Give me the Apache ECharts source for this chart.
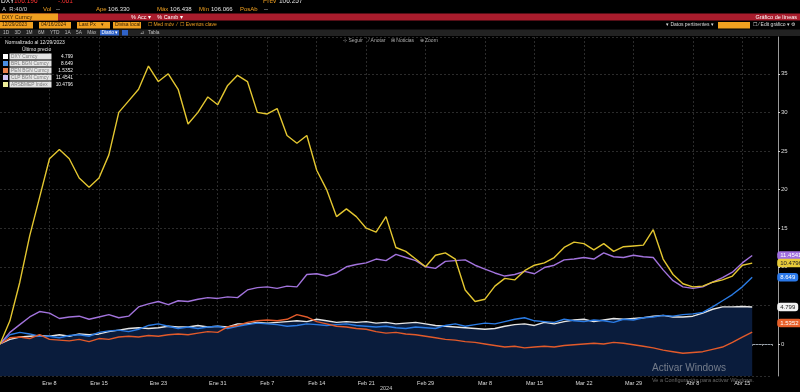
<!DOCTYPE html>
<html>
<head>
<meta charset="utf-8">
<script src="https://cdn.jsdelivr.net/npm/echarts@6/dist/echarts.min.js"></script>
<style>
html,body{margin:0;padding:0;background:#000;}
#c{width:800px;height:392px;}
</style>
</head>
<body>
<div id="c"></div>
<script>
// ---- data ----
const dates = ['Dic 29','Ene 2','Ene 3','Ene 4','Ene 5','Ene 8','Ene 9','Ene 10','Ene 11','Ene 12','Ene 15','Ene 16','Ene 17','Ene 18','Ene 19','Ene 22','Ene 23','Ene 24','Ene 25','Ene 26','Ene 29','Ene 30','Ene 31','Feb 1','Feb 2','Feb 5','Feb 6','Feb 7','Feb 8','Feb 9','Feb 12','Feb 13','Feb 14','Feb 15','Feb 16','Feb 19','Feb 20','Feb 21','Feb 22','Feb 23','Feb 26','Feb 27','Feb 28','Feb 29','Mar 1','Mar 4','Mar 5','Mar 6','Mar 7','Mar 8','Mar 11','Mar 12','Mar 13','Mar 14','Mar 15','Mar 18','Mar 19','Mar 20','Mar 21','Mar 22','Mar 25','Mar 26','Mar 27','Mar 28','Mar 29','Abr 1','Abr 2','Abr 3','Abr 4','Abr 5','Abr 8','Abr 9','Abr 10','Abr 11','Abr 12','Abr 15','Abr 16'];
const padCats = [' ', '  '];
const tickLabels = ['Ene 8','Ene 15','Ene 23','Ene 31','Feb 7','Feb 14','Feb 21','Feb 29','Mar 8','Mar 15','Mar 22','Mar 29','Abr 8','Abr 15'];
const yTicks = [0,5,10,15,20,25,30,35];

const dxy = [0,0.6,0.9,1.0,1.1,1.0,1.2,1.0,1.3,1.2,1.3,1.6,1.8,2.0,2.1,2.0,2.1,2.3,2.2,2.2,2.4,2.2,2.3,2.2,2.6,2.6,2.8,2.7,2.8,2.9,3.0,2.9,3.2,3.0,2.8,2.9,2.8,2.9,2.7,2.8,2.6,2.7,2.8,2.6,2.4,2.3,2.2,2.1,2.0,1.9,2.0,2.3,2.5,2.6,2.4,2.8,2.6,2.9,3.1,3.2,2.9,3.1,3.3,3.2,3.3,3.4,3.6,3.7,3.5,3.5,3.6,4.0,4.5,4.8,4.8,4.85,4.799];
const brl = [0,1.2,1.5,1.3,1.0,1.0,0.8,1.1,1.2,1.0,1.5,1.7,1.8,1.6,1.9,2.4,2.6,2.3,2.0,2.2,2.0,2.2,2.3,2.0,2.3,2.5,2.7,2.6,2.5,2.3,2.4,2.6,2.5,2.4,2.5,2.6,2.4,2.3,2.2,2.3,2.1,2.0,2.2,2.1,2.0,2.4,2.6,2.3,2.5,2.7,2.6,2.9,3.2,3.4,3.0,2.9,2.8,3.2,3.0,2.9,3.1,3.0,2.8,3.2,3.1,3.4,3.5,3.7,3.6,3.8,3.9,4.1,4.8,5.6,6.4,7.4,8.649];
const pen = [0,0.8,0.9,0.7,1.2,0.6,0.5,0.4,0.6,0.3,0.7,0.6,0.9,1.0,0.9,1.1,1.0,1.2,1.3,1.2,1.4,1.6,1.5,2.2,2.4,2.8,3.0,3.1,3.0,3.2,3.8,3.5,2.9,2.6,2.3,2.2,2.0,1.9,1.6,1.4,1.5,1.3,1.2,1.0,0.8,0.6,0.5,0.3,0.2,0.0,-0.2,-0.4,-0.3,-0.5,-0.4,-0.3,-0.4,-0.2,-0.1,0.0,0.1,0.0,0.2,0.1,-0.1,-0.3,-0.5,-0.8,-1.0,-1.2,-1.1,-1.0,-0.7,-0.4,0.2,0.9,1.5352];
const clp = [0,1.5,2.5,3.5,4.2,4.0,3.3,3.5,3.6,3.2,3.5,3.8,3.4,3.6,4.8,5.2,5.5,5.1,5.6,5.5,5.8,6.0,5.9,6.1,6.0,7.0,7.3,7.4,7.2,7.5,7.4,9.0,9.1,8.8,9.2,10.0,10.3,10.5,11.0,10.8,11.6,11.2,10.8,10.0,9.8,10.7,10.8,10.9,10.2,9.7,9.2,8.8,9.0,9.4,9.1,9.9,10.2,10.9,11.0,11.2,11.0,11.8,11.3,11.2,11.5,11.3,11.2,9.6,8.2,7.4,7.2,7.4,8.0,8.6,9.3,10.5,11.4541];
const ars = [0,3,8,14,19,24,25.2,24,21.5,20.3,21.5,24.5,30,31.5,33,36,34,35,33,28.5,30,32,31,33.5,34.8,34,30,29.8,30.5,27,26,27,22.5,20,16.5,17.5,16.5,15,14.5,16.5,12.5,12,11,10,11.5,11.8,11,7,5.5,5.8,7.5,8.5,8.3,9.5,10.2,10.5,11.2,12.5,13.2,13,12.2,13,12,12.6,12.7,12.8,14.8,11,9,7.8,7.4,7.5,8,8.3,8.8,10.2,10.4796];

const seriesNames = ['DXY Curncy','BRL BGN Curncy','PEN BGN Curncy','CLP BGN Curncy','ARSBMEP Index'];
const lastLabels = ['4.799','8.649','1.5352','11.4541','10.4796'];

// ---- styles ----
const FONT = 'Liberation Sans, Arial, sans-serif';
const C = {
  dxy: '#e6e6e6', brl: '#2a7be4', pen: '#e25a2a', clp: '#a273dc', ars: '#e3c630',
  area: '#0a1c3c', orange: '#f0a020', red: '#a81c2c'
};
const legendSwatch = ['#ffffff','#4a8fe4','#e8804c','#cfc3f2','#eeee9a'];

const chart = echarts.init(document.getElementById('c'), null, {renderer: 'canvas'});

function endLabel(bg, fg, dy) {
  return {
    show: true, position: 'right', distance: 25, offset: [0, dy || 0],
    formatter: (p) => lastLabels[p.seriesIndex],
    backgroundColor: bg, color: fg, fontSize: 6, fontFamily: FONT,
    padding: [1.5, 3, 1, 3], borderRadius: 3
  };
}

function lineSeries(name, data, color, lbg, lfg, dy, extra) {
  return Object.assign({
    name, type: 'line', data, symbol: 'none', smooth: false,
    lineStyle: {color, width: 1.4}, itemStyle: {color},
    endLabel: endLabel(lbg, lfg, dy), animation: false, z: 3
  }, extra || {});
}

const g = [];
function txt(x, y, s, color, size, opts) {
  g.push(Object.assign({type: 'text', left: x, top: y, silent: true, z: 10,
    style: {text: s, fill: color, fontSize: size || 6, fontFamily: FONT}}, opts || {}));
}
function rect(x, y, w, h, fill) {
  g.push({type: 'rect', shape: {x, y, width: w, height: h}, style: {fill}, silent: true, z: 9});
}
// header rows
txt(1, -2, 'DXY', '#ffffff', 6.5);
txt(14, -2, '106.196', '#ff3333', 6.5);
txt(58, -2, '-.061', '#ff3333', 6.5);
txt(263, -2, 'Prev', '#f0a020', 6.5);
txt(279, -2, '106.257', '#e0e0e0', 6.5);
txt(2, 6, 'A  R:40/0', '#cccccc', 6);
txt(43, 6, 'Vol', '#f0a020', 6);
txt(56, 6, '--', '#cccccc', 6);
txt(96, 6, 'Ape', '#f0a020', 6);
txt(108, 6, '106.330', '#e0e0e0', 6);
txt(157, 6, 'Máx', '#f0a020', 6);
txt(170, 6, '106.438', '#e0e0e0', 6);
txt(199, 6, 'Mín', '#f0a020', 6);
txt(211, 6, '106.066', '#e0e0e0', 6);
txt(240, 6, 'PosAb', '#f0a020', 6);
txt(264, 6, '--', '#cccccc', 6);
rect(0, 13.5, 800, 7, C.red);
rect(0, 13.5, 58, 7, C.orange);
txt(2, 14, 'DXY Curncy', '#3a2000', 5.5);
txt(131, 14, '% Acc ▾    % Camb ▾', '#ffffff', 5.5);
txt(797, 14, 'Gráfico de líneas', '#ffffff', 5.5, {left: null, right: 3});
rect(0, 22, 33, 6.5, C.orange); rect(39, 22, 32, 6.5, C.orange);
rect(77, 22, 33, 6.5, C.orange); rect(113, 22, 28, 6.5, C.orange);
txt(2, 22.5, '12/29/2023', '#3a2000', 5);
txt(41, 22.5, '04/16/2024', '#3a2000', 5);
txt(79, 22.5, 'Last Px    ▾', '#3a2000', 5);
txt(115, 22.5, 'Divisa local', '#3a2000', 5);
txt(148, 22.5, '☐ Med móv  ⁄  ☐ Eventos clave', '#f0a020', 5);
txt(666, 22.5, '▾ Datos pertinentes ▾', '#dddddd', 5);
rect(718, 22, 32, 6.5, C.orange);
txt(753, 22.5, '☐ ⁄ Edit gráfico ▾ ⚙', '#dddddd', 5);
rect(0, 29.5, 800, 6.5, '#222222');
txt(3, 30, '1D    3D    1M    6M    YTD    1A    5A    Máx', '#bbbbbb', 4.8);
rect(100, 30, 19, 5.5, '#2f62c8');
txt(101.5, 30.2, 'Diario ▾', '#ffffff', 4.8);
rect(122, 30, 6, 5.5, '#2f62c8');
txt(140, 30.2, '⊿   Tabla', '#bbbbbb', 4.8);
// chart toolbar
txt(343, 38.5, '⊹ Seguir    ⁄ Anotar    ⊞ Noticias    ⊕ Zoom', '#aaaaaa', 5);
// legend box
txt(5, 40, 'Normalizado al 12/29/2023', '#e0e0e0', 5);
txt(22, 47.5, 'Último precio', '#e0e0e0', 5);
const rowY = [53.5, 60.5, 67.5, 74.5, 81.5];
seriesNames.forEach((n, i) => {
  rect(3, rowY[i] + 0.5, 5, 5, legendSwatch[i]);
  rect(9.5, rowY[i], 42, 6, '#e4e4e4');
  txt(11, rowY[i] + 0.5, n, '#7a7a7a', 4.8);
  txt(73, rowY[i] + 0.5, lastLabels[i], '#f0f0f0', 4.8, {left: null, right: 800 - 73});
});
// windows watermark
txt(652, 363, 'Activar Windows', 'rgba(200,200,200,0.55)', 10);
txt(652, 377, 'Ve a Configuración para activar Windows.', 'rgba(200,200,200,0.5)', 5.5);
txt(380, 385, '2024', '#cccccc', 5.5);

const labelSet = new Set(tickLabels);
const tickSet = new Set(yTicks);

const option = {
  backgroundColor: '#000000',
  animation: false,
  grid: {left: -3, right: 28, top: 37, bottom: 16, containLabel: false},
  xAxis: {
    type: 'category', boundaryGap: false, data: dates.concat(padCats),
    axisLine: {show: true, lineStyle: {color: '#9aa3ad', width: 1, type: [2, 1]}},
    axisTick: {show: true, interval: 0, length: 2, lineStyle: {color: '#8a8a8a'}},
    axisLabel: {
      interval: (i, v) => labelSet.has(v), color: '#dddddd', fontSize: 5.5,
      fontFamily: FONT, margin: 4
    },
    splitLine: {show: true, interval: (i, v) => labelSet.has(v),
      lineStyle: {color: '#2b2b2b', width: 1, type: [2, 2]}}
  },
  yAxis: {
    type: 'value', position: 'right', offset: 6,
    min: -4.15, max: 39.77, minInterval: 5, maxInterval: 5,
    axisLine: {show: true, lineStyle: {color: '#9a9a9a', width: 1}},
    axisTick: {show: true, length: 2, lineStyle: {color: '#cccccc'}},
    axisLabel: {
      color: '#dddddd', fontSize: 6, fontFamily: FONT, margin: 3,
      showMinLabel: false, showMaxLabel: false,
      formatter: (v) => tickSet.has(v) ? String(v) : ''
    },
    splitLine: {show: true, lineStyle: {color: '#2b2b2b', width: 1, type: [2, 2]}}
  },
  series: [
    lineSeries(seriesNames[0], dxy, C.dxy, '#f2f2f2', '#222222', 0,
      {areaStyle: {color: C.area, opacity: 1, origin: 'start'}, z: 2}),
    lineSeries(seriesNames[1], brl, C.brl, '#2a78e8', '#ffffff', 0),
    lineSeries(seriesNames[2], pen, C.pen, '#e8602a', '#ffffff', -9),
    lineSeries(seriesNames[3], clp, C.clp, '#a06fe0', '#ffffff', 0),
    lineSeries(seriesNames[4], ars, C.ars, '#e8cc3a', '#222222', 0)
  ],
  graphic: g
};
chart.setOption(option);
</script>
</body>
</html>
